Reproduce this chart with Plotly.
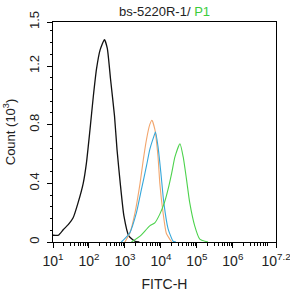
import numpy as np
import plotly.graph_objects as go

# log10(FITC-H) positions and counts (x10^3)
black_logx = [1.0, 1.03, 1.15, 1.29, 1.43, 1.56, 1.70, 1.84, 1.93, 2.03, 2.12, 2.21, 2.31, 2.43, 2.51, 2.60, 2.71, 2.78, 2.87, 2.97, 3.11, 3.28, 3.40]
black_y = [0.046, 0.046, 0.046, 0.085, 0.12, 0.165, 0.27, 0.40, 0.54, 0.77, 0.99, 1.18, 1.31, 1.38, 1.32, 1.11, 0.86, 0.63, 0.40, 0.18, 0.04, 0.005, 0.0]

orange_logx = [3.00, 3.15, 3.28, 3.42, 3.51, 3.60, 3.69, 3.75, 3.83, 3.92, 3.97, 4.06, 4.15, 4.30]
orange_y = [0.0, 0.07, 0.20, 0.40, 0.56, 0.70, 0.80, 0.83, 0.77, 0.58, 0.40, 0.20, 0.06, 0.0]

blue_logx = [2.90, 3.13, 3.32, 3.46, 3.60, 3.69, 3.79, 3.85, 3.92, 4.00, 4.08, 4.20, 4.34, 4.42]
blue_y = [0.0, 0.06, 0.20, 0.36, 0.52, 0.63, 0.71, 0.75, 0.65, 0.47, 0.27, 0.09, 0.005, 0.0]

green_logx = [3.18, 3.42, 3.69, 3.83, 3.97, 4.10, 4.20, 4.30, 4.39, 4.53, 4.62, 4.71, 4.80, 4.94, 5.08, 5.31]
green_y = [0.0, 0.04, 0.11, 0.13, 0.19, 0.27, 0.36, 0.47, 0.58, 0.67, 0.58, 0.43, 0.27, 0.11, 0.02, 0.0]

x_tick_exp = [1, 2, 3, 4, 5, 6, 7.2]
x_tick_text = ["10<sup>1</sup>", "10<sup>2</sup>", "10<sup>3</sup>", "10<sup>4</sup>",
               "10<sup>5</sup>", "10<sup>6</sup>", "10<sup>7.2</sup>"]
y_tick_vals = [0, 0.4, 0.8, 1.2, 1.5]
y_tick_text = ["0", "0.4", "0.8", "1.2", "1.5"]

series = [
    (black_logx, black_y, "#111111", 1.3),
    (orange_logx, orange_y, "#F2A66E", 1.1),
    (blue_logx, blue_y, "#35A7DA", 1.1),
    (green_logx, green_y, "#4CD24C", 1.1),
]

fig = go.Figure()
for lx, yy, col, w in series:
    fig.add_trace(go.Scatter(x=[10 ** v for v in lx], y=yy, mode="lines",
                             line=dict(color=col, width=w, shape="spline", smoothing=0.5),
                             showlegend=False, hoverinfo="skip"))

font = dict(family="Liberation Sans, Arial, sans-serif", size=13, color="#222222")

fig.update_layout(
    width=290, height=296,
    margin=dict(l=53, r=14, t=22, b=54, autoexpand=False),
    paper_bgcolor="white", plot_bgcolor="white",
    font=font,
    annotations=[
        dict(text="bs-5220R-1/ <span style='color:#3ccc3c'>P1</span>",
             xref="paper", yref="paper", x=0.5, y=1, yshift=11,
             xanchor="center", yanchor="middle", showarrow=False,
             font=dict(family=font["family"], size=13, color="#222222")),
    ],
)

fig.update_xaxes(
    type="log", range=[1, 7.2], automargin=False,
    tickvals=[10 ** e for e in x_tick_exp], ticktext=x_tick_text,
    ticks="outside", ticklen=5, tickcolor="#000", tickwidth=1,
    showline=True, linecolor="#000", linewidth=1, mirror=True,
    showgrid=False, zeroline=False,
    minor=dict(ticks="outside", ticklen=2.5, tickcolor="#000",
               tickvals=[m * 10 ** d for d in range(1, 7) for m in range(2, 10)] +
                        [m * 1e7 for m in range(2, 10) if m * 1e7 <= 10 ** 7.2],
               showgrid=False),
    ticklabeloverflow="allow",
    ticklabelstandoff=1,
    title=dict(text="FITC-H", font=dict(size=14), standoff=11),
    tickfont=dict(size=14),
)

fig.update_yaxes(
    range=[0, 1.5], automargin=False,
    tickvals=y_tick_vals, ticktext=y_tick_text,
    tickangle=-90,
    ticks="outside", ticklen=5, tickcolor="#000", tickwidth=1,
    showline=True, linecolor="#000", linewidth=1, mirror=True,
    showgrid=False, zeroline=False,
    minor=dict(ticks="outside", ticklen=2.5, tickcolor="#000", dtick=0.08, tick0=0, showgrid=False),
    ticklabeloverflow="allow",
    ticklabelstandoff=3,
    title=dict(text="Count (10<sup>3</sup>)", font=dict(size=13), standoff=8),
    tickfont=dict(size=13),
)

fig.write_html("out.html")
